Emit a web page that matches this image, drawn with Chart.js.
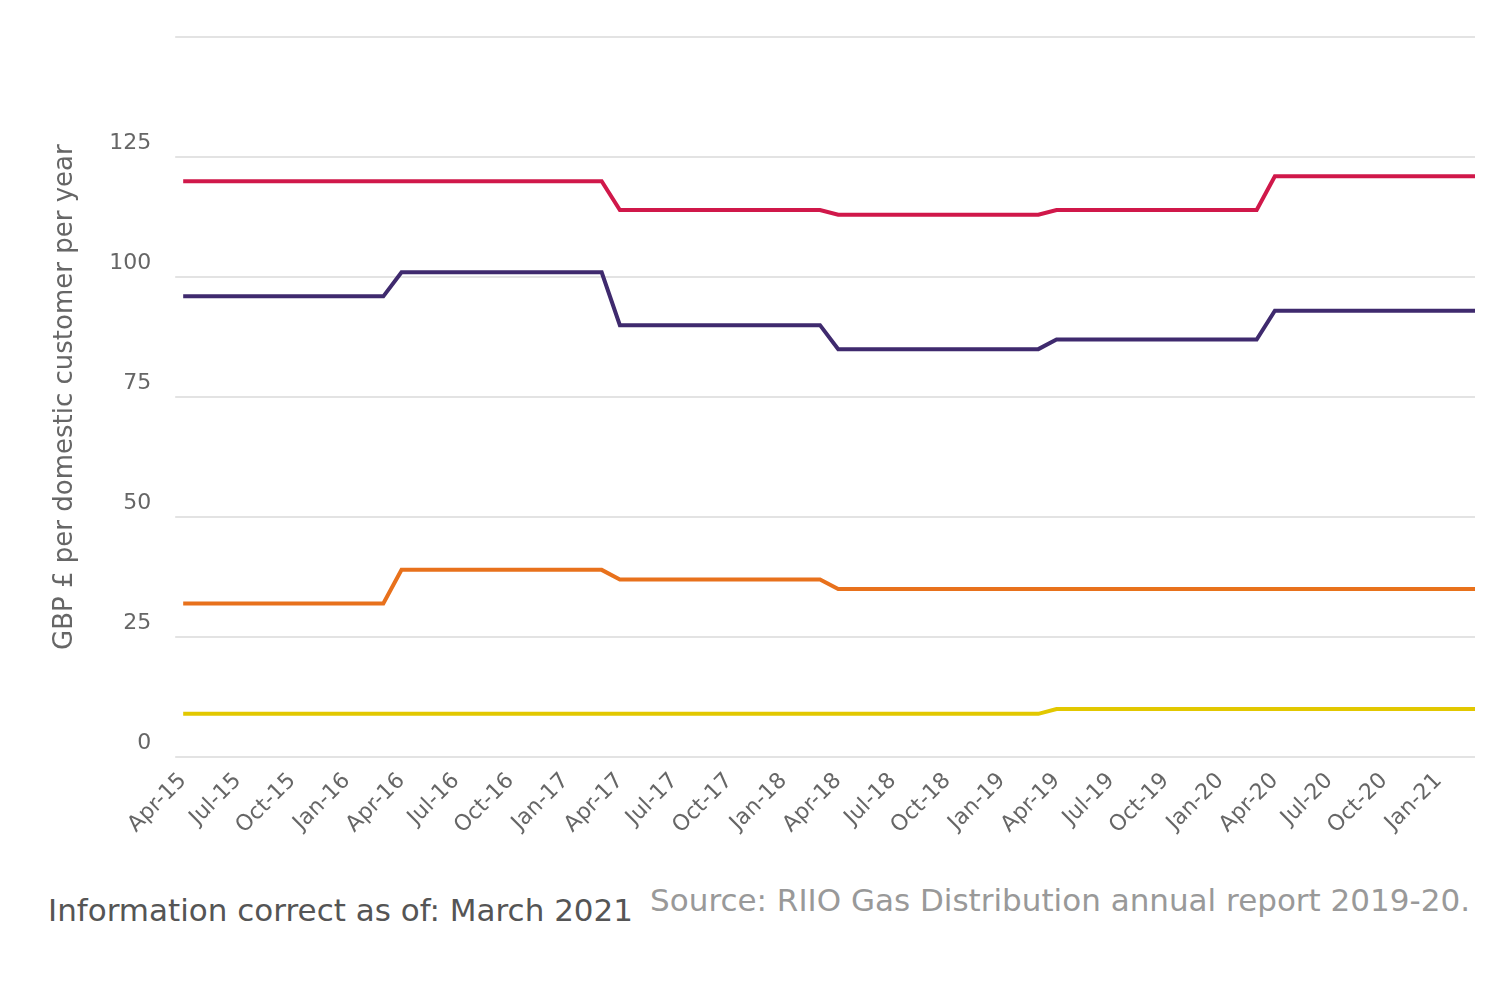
<!DOCTYPE html>
<html><head><meta charset="utf-8">
<script src="https://cdn.jsdelivr.net/npm/chart.js@4"></script>
<style>
body{margin:0;background:#fff;font-family:"DejaVu Sans",sans-serif}
#wrap{position:relative;width:1500px;height:1000px}
#c{position:absolute;left:0;top:0}
#info{position:absolute;left:48px;top:892px;font-size:31px;color:#555}
#src{position:absolute;right:30px;top:882px;font-size:31px;color:#999}
</style></head><body>
<div id="wrap"><canvas id="c" width="1500" height="842"></canvas>
<div id="info">Information correct as of: March 2021</div>
<div id="src">Source: RIIO Gas Distribution annual report 2019-20.</div></div>
<script>
const months=["Apr","May","Jun","Jul","Aug","Sep","Oct","Nov","Dec","Jan","Feb","Mar"];
const labels=[];
for(let y=15;y<21;y++){months.forEach((m,i)=>labels.push(m+"-"+(i<9?y:y+1)));}
function steps(vals){const out=[];vals.forEach(v=>{for(let i=0;i<12;i++)out.push(v);});return out;}
const redYearly=[120,120,114,113,114,121];
const purpleYearly=[96,101,90,85,87,93];
const orangeYearly=[32,39,37,35,35,35];
const yellowYearly=[9,9,9,9,10,10];
const yTicks=[0,25,50,75,100,125];
const mk=(d,c)=>({data:steps(d),borderColor:c,borderWidth:4,pointRadius:0,fill:false,tension:0});
new Chart(document.getElementById('c'),{type:'line',
data:{labels,datasets:[mk(redYearly,'#d0184a'),mk(purpleYearly,'#3f2a6e'),mk(orangeYearly,'#e8711c'),mk(yellowYearly,'#e2c800')]},
options:{responsive:false,animation:false,
layout:{padding:{left:46,right:25,top:0,bottom:0}},
plugins:{legend:{display:false},tooltip:{enabled:false}},
scales:{
x:{offset:false,grid:{display:false},border:{display:false},
ticks:{autoSkip:false,maxRotation:45,minRotation:45,color:'#666',font:{size:22,family:'DejaVu Sans'},
callback:(v,i)=>i%3===0?labels[i]:''}},
y:{min:0,max:150,grid:{color:'#e3e3e3',lineWidth:2},border:{display:false},
afterBuildTicks:ax=>{ax.ticks=[0,25,50,75,100,125,150].map(v=>({value:v}));},
ticks:{color:'#666',padding:24,labelOffset:-14,font:{size:22,family:'DejaVu Sans'},callback:v=>yTicks.includes(v)?v:''},
title:{display:true,text:'GBP £ per domestic customer per year',color:'#666',font:{size:26,family:'DejaVu Sans'}}}
}}});
</script></body></html>
